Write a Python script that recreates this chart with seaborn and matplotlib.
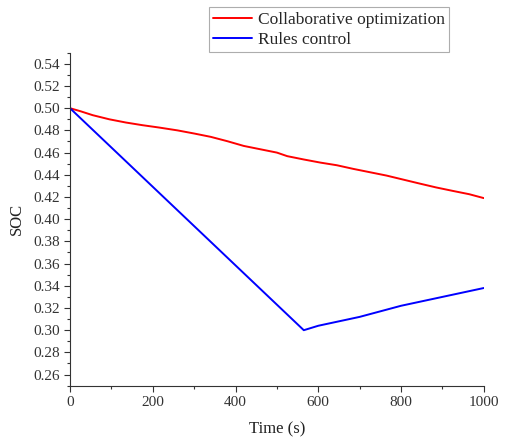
import numpy as np
import pandas as pd
import matplotlib
matplotlib.use("Agg")
import matplotlib.pyplot as plt
from matplotlib.ticker import MultipleLocator
import seaborn as sns

# State of charge over a 1000 s run
time_collab = [0, 25, 55, 95, 135, 175, 215, 260, 300, 340, 380, 420, 460, 500,
               525, 565, 605, 645, 685, 725, 765, 805, 845, 885, 925, 965, 1000]
soc_collab = [0.500, 0.4973, 0.4937, 0.4900, 0.4871, 0.4847, 0.4826, 0.4800, 0.4772,
              0.4742, 0.4703, 0.4660, 0.4630, 0.4600, 0.4568, 0.4538, 0.4510, 0.4486,
              0.4453, 0.4423, 0.4393, 0.4357, 0.4321, 0.4286, 0.4255, 0.4225, 0.4190]

time_rules = [0, 565, 600, 650, 700, 750, 800, 850, 900, 950, 1000]
soc_rules = [0.500, 0.300, 0.304, 0.308, 0.312, 0.317, 0.322, 0.326, 0.330, 0.334, 0.338]

series_names = ["Collaborative optimization", "Rules control"]

df = pd.concat([
    pd.DataFrame({"Time": time_collab, "SOC": soc_collab, "Strategy": series_names[0]}),
    pd.DataFrame({"Time": time_rules, "SOC": soc_rules, "Strategy": series_names[1]}),
], ignore_index=True)

sns.set_style("ticks")
plt.rcParams["font.family"] = ["Liberation Serif", "DejaVu Serif"]

fig = plt.figure(figsize=(5.05, 4.41), dpi=100)
ax = fig.add_axes([0.1386, 0.1254, 0.8194, 0.7551])

sns.lineplot(data=df, x="Time", y="SOC", hue="Strategy", hue_order=series_names,
             palette=["#ff0000", "#0000ff"], linewidth=1.4, ax=ax, legend=True,
             estimator=None, sort=False)

ax.set_xlim(0, 1000)
ax.set_ylim(0.25, 0.55)
ax.xaxis.set_major_locator(MultipleLocator(200))
ax.xaxis.set_minor_locator(MultipleLocator(100))
ax.yaxis.set_minor_locator(MultipleLocator(0.01))
yt = np.arange(0.26, 0.5401, 0.02)
ax.set_yticks(yt)
ax.set_yticklabels([f"{v:.2f}" for v in yt])
ax.tick_params(axis="both", which="major", direction="out", length=4, width=0.8,
               labelsize=11, colors="#333333", labelcolor="#333333")
ax.tick_params(axis="both", which="minor", direction="out", length=2.5, width=0.8,
               colors="#333333")
for s in ["top", "right"]:
    ax.spines[s].set_visible(False)
for s in ["left", "bottom"]:
    ax.spines[s].set_color("#333333")
    ax.spines[s].set_linewidth(0.8)

ax.set_xlabel("Time (s)", fontsize=12, color="#222222", labelpad=9)
ax.set_ylabel("SOC", fontsize=12, color="#222222", labelpad=6)

handles, labels = ax.get_legend_handles_labels()
ax.get_legend().remove()
leg = fig.legend(handles, labels, loc="upper left", bbox_to_anchor=(0.414, 0.983),
                 bbox_transform=fig.transFigure, fontsize=12.5, frameon=True,
                 fancybox=False, edgecolor="#999999", handlelength=2.25,
                 borderpad=0.25, labelspacing=0.2, handletextpad=0.3, borderaxespad=0)
leg.get_frame().set_linewidth(0.8)

fig.savefig("out.png", dpi=100)
